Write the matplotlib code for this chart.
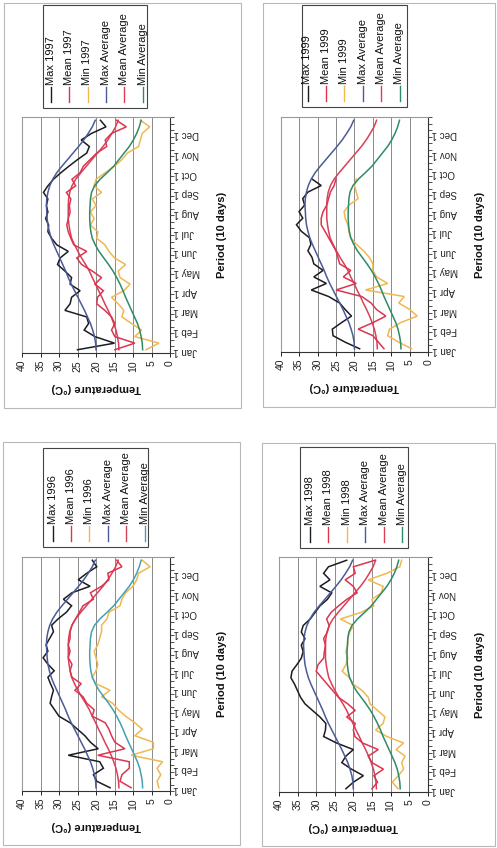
import numpy as np
import matplotlib
matplotlib.use("Agg")
import matplotlib.pyplot as plt
from matplotlib.lines import Line2D
from matplotlib.patches import Rectangle

plt.rcParams['font.family'] = ['Liberation Sans', 'DejaVu Sans']

W, H = 497, 848

# ---- data -------------------------------------------------------------
month_labels = ["Jan 1", "Feb 1", "Mar 1", "Apr 1", "May 1", "Jun 1",
                "Jul 1", "Aug 1", "Sep 1", "Oct 1", "Nov 1", "Dec 1"]
temp_ticks = [0, 5, 10, 15, 20, 25, 30, 35, 40]

# long-term 10-day averages (36 periods)
max_average = [20.0, 20.1, 20.4, 20.9, 21.5, 22.3, 23.1, 24.0, 24.9, 25.8, 26.7, 27.5,
               28.2, 29.0, 29.8, 30.6, 31.4, 32.1, 32.6, 33.0, 33.2, 33.3, 33.4, 33.3,
               33.0, 32.5, 31.7, 30.6, 29.2, 27.7, 26.2, 24.7, 23.3, 22.1, 21.0, 20.2]
mean_average = [13.8, 13.9, 14.2, 14.6, 15.2, 15.9, 16.7, 17.6, 18.4, 19.3, 20.1, 21.0,
                21.8, 22.8, 23.9, 24.9, 25.8, 26.6, 27.0, 27.3, 27.5, 27.5, 27.5, 27.4,
                27.1, 26.5, 25.5, 24.1, 22.6, 21.1, 19.6, 18.1, 16.8, 15.7, 14.7, 14.0]
min_average = [7.4, 7.5, 7.8, 8.2, 8.8, 9.6, 10.4, 11.2, 12.0, 12.7, 13.5, 14.4,
               15.4, 16.6, 17.9, 19.2, 20.2, 21.0, 21.4, 21.6, 21.7, 21.7, 21.6, 21.5,
               21.2, 20.4, 18.9, 17.0, 15.2, 13.8, 12.4, 11.0, 9.9, 9.0, 8.3, 7.8]

max_1996 = [16.2, 19.8, 20.7, 18.0, 19.0, 27.5, 19.4, 21.5, 23.0, 25.0, 27.0, 30.0,
            31.2, 32.4, 32.0, 31.5, 32.3, 33.0, 31.3, 33.0, 34.3, 33.0, 33.5, 32.5,
            31.5, 32.0, 30.2, 28.0, 26.6, 28.8, 26.5, 21.6, 24.8, 22.5, 19.8, 21.0]
mean_1996 = [10.5, 13.5, 13.0, 11.0, 11.0, 19.5, 12.2, 14.9, 15.8, 16.5, 17.5, 21.0,
             20.5, 22.5, 23.5, 25.7, 24.0, 26.5, 27.0, 26.5, 27.5, 27.0, 27.5, 27.0,
             27.0, 26.5, 25.5, 24.5, 23.5, 20.7, 21.5, 18.5, 16.5, 16.8, 13.0, 14.4]
min_1996 = [3.0, 3.5, 2.5, 3.5, 2.0, 10.5, 4.5, 4.5, 9.5, 7.5, 9.5, 12.0,
            14.0, 15.5, 18.5, 16.2, 20.0, 21.0, 20.0, 19.5, 20.0, 20.5, 19.5, 19.0,
            18.5, 18.5, 17.0, 16.5, 13.5, 13.0, 12.0, 10.0, 9.0, 8.5, 5.4, 7.5]

max_1997 = [25.0, 15.0, 20.3, 23.2, 22.0, 22.5, 28.4, 27.0, 26.6, 24.3, 27.0, 26.6,
            28.4, 30.4, 29.7, 27.5, 30.6, 32.0, 33.0, 32.8, 33.6, 33.0, 33.4, 33.0,
            34.2, 33.0, 31.5, 29.5, 27.3, 25.0, 22.5, 21.8, 24.0, 21.2, 17.3, 18.8]
mean_1997 = [14.9, 9.5, 14.9, 15.8, 14.9, 15.8, 17.6, 19.8, 19.6, 18.0, 20.3, 18.5,
             21.0, 23.9, 25.2, 22.5, 26.0, 26.8, 27.5, 27.9, 27.5, 27.0, 27.2, 26.8,
             28.0, 25.5, 26.5, 24.3, 23.4, 21.6, 19.8, 17.1, 17.5, 15.8, 11.8, 14.5]
min_1997 = [6.5, 3.0, 9.5, 7.7, 10.4, 13.0, 12.5, 14.0, 15.8, 12.5, 10.8, 13.5,
            14.0, 12.0, 15.0, 16.5, 17.6, 19.8, 19.5, 21.5, 20.5, 21.5, 20.0, 21.0,
            18.5, 20.5, 20.0, 17.5, 15.0, 13.0, 11.5, 8.5, 8.0, 7.5, 5.5, 8.0]

max_1998 = [22.0, 20.0, 17.3, 20.5, 23.1, 22.0, 20.0, 24.5, 28.0, 27.5, 27.4, 29.0,
            31.0, 33.0, 34.2, 35.0, 35.8, 36.8, 36.5, 35.2, 34.0, 33.5, 34.0, 33.0,
            34.0, 33.5, 31.6, 30.3, 29.0, 27.0, 25.8, 29.0, 26.3, 28.0, 26.7, 21.8]
mean_1998 = [15.0, 13.5, 14.5, 11.9, 15.0, 16.0, 13.3, 17.5, 19.6, 20.0, 19.5, 21.8,
             19.5, 21.5, 24.0, 25.5, 27.0, 28.5, 30.0, 29.5, 28.0, 27.8, 27.5, 28.0,
             27.0, 26.5, 27.2, 26.0, 24.0, 21.8, 19.0, 20.0, 22.2, 19.5, 20.0, 14.2]
min_1998 = [8.0, 9.5, 7.9, 6.5, 7.0, 6.1, 8.5, 6.5, 11.0, 14.0, 12.0, 11.5,
            13.5, 15.5, 16.0, 17.5, 20.0, 21.0, 23.0, 22.0, 21.5, 22.0, 21.5, 21.5,
            21.0, 20.0, 23.5, 18.0, 14.5, 15.0, 12.5, 12.0, 16.0, 11.0, 7.5, 7.0]

# 1999 record stops at the end of September
max_1999 = [18.6, 22.5, 25.8, 26.0, 23.5, 20.8, 22.5, 24.0, 27.0, 31.7, 27.6, 31.0,
            28.5, 31.0, 31.5, 32.6, 31.8, 32.2, 34.4, 35.7, 34.0, 35.0, 33.5, 34.0,
            32.6, 29.0, 31.5]
mean_1999 = [12.0, 13.5, 15.0, 19.0, 15.0, 11.5, 14.0, 15.5, 18.0, 25.0, 19.5, 23.0,
             21.0, 24.0, 24.5, 25.0, 26.0, 27.0, 28.0, 29.0, 29.0, 28.5, 27.5, 27.0,
             26.5, 25.5, 25.0]
min_1999 = [4.5, 8.0, 11.0, 10.5, 7.5, 3.0, 5.0, 8.0, 6.5, 17.0, 11.0, 14.0,
            15.0, 15.0, 16.0, 17.5, 19.5, 21.0, 21.5, 21.8, 22.5, 22.8, 21.5, 19.0,
            19.5, 20.0, 19.5]

# ---- styling ----------------------------------------------------------
C_MAX = "#1c1c24"
C_MEAN = "#dc3550"
C_MIN = "#f0b850"
C_MAXAVG = "#4b5b95"
C_MEANAVG = "#d94058"
C_MINAVG_GREEN = "#2f8a68"
C_MINAVG_TEAL = "#45a0b4"

panels = [
    dict(year="1997", mx=max_1997, mn=mean_1997, lo=min_1997,
         plot=(22, 117, 170, 353), frame=(4, 3, 241, 408),
         legend=(43, 5, 147, 108), lx0=50.7, minavg=C_MINAVG_GREEN),
    dict(year="1999", mx=max_1999, mn=mean_1999, lo=min_1999,
         plot=(280.6, 117, 428.3, 352), frame=(263, 3, 495, 407),
         legend=(302, 5, 407, 107), lx0=307.5, minavg=C_MINAVG_GREEN),
    dict(year="1996", mx=max_1996, mn=mean_1996, lo=min_1996,
         plot=(22, 557, 170, 791), frame=(3, 442, 240, 845),
         legend=(43, 448, 148, 547), lx0=52.5, minavg=C_MINAVG_TEAL),
    dict(year="1998", mx=max_1998, mn=mean_1998, lo=min_1998,
         plot=(279, 557, 427.7, 792), frame=(262, 443, 495, 846),
         legend=(300, 447, 408, 548), lx0=310.0, minavg=C_MINAVG_GREEN),
]


def fx(x):
    return x / W


def fy(y):
    return 1 - y / H


fig = plt.figure(figsize=(W / 100, H / 100), dpi=100)
fig.patch.set_facecolor("white")

for p in panels:
    # outer chart frame
    x0, y0, x1, y1 = p["frame"]
    fig.add_artist(Rectangle((fx(x0), fy(y1)), fx(x1) - fx(x0), fy(y0) - fy(y1),
                             transform=fig.transFigure, fill=False,
                             edgecolor="#b8b8b8", lw=0.8))

    l, t, r, b = p["plot"]
    ax = fig.add_axes([fx(l), fy(b), fx(r) - fx(l), fy(t) - fy(b)])
    ax.set_facecolor("white")
    ax.set_xlim(40, 0)
    ax.set_ylim(-0.5, 35.5)

    for g in temp_ticks[1:-1]:
        ax.axvline(g, color="#8a8a8a", lw=0.7, zorder=1)

    idx = np.arange(36)
    series = [
        (p["mx"], C_MAX),
        (p["lo"], C_MIN),
        (max_average, C_MAXAVG),
        (mean_average, C_MEANAVG),
        (min_average, p["minavg"]),
        (p["mn"], C_MEAN),
    ]
    for vals, col in series:
        ax.plot(vals, idx[:len(vals)], color=col, lw=1.1, zorder=3,
                solid_joinstyle="miter")

    # temperature axis (bottom)
    ax.set_xticks(temp_ticks)
    ax.set_xticklabels([str(v) for v in temp_ticks], rotation=90)
    ax.tick_params(axis="x", direction="out", length=3, width=0.7, pad=2,
                   labelsize=7.5, colors="#222222")

    # period axis (right)
    ax.yaxis.tick_right()
    ax.set_yticks(np.arange(0, 36, 3))
    ax.set_yticklabels(month_labels, rotation=180)
    ax.set_yticks(np.arange(-0.5, 36, 1), minor=True)
    ax.tick_params(axis="y", which="major", length=0, pad=2.5, labelsize=7,
                   colors="#222222")
    ax.tick_params(axis="y", which="minor", direction="out", length=3,
                   width=0.6, color="#333333")

    for side in ("left", "top"):
        ax.spines[side].set_color("#9a9a9a")
        ax.spines[side].set_linewidth(0.8)
    for side in ("right", "bottom"):
        ax.spines[side].set_color("#333333")
        ax.spines[side].set_linewidth(0.8)

    # axis titles
    fig.text(fx((l + r) / 2), fy(b + 35), "Temperature (°C)", rotation=180,
             ha="center", va="center", fontsize=8, fontweight="bold",
             color="#111111")
    fig.text(fx(r + 52), fy((t + b) / 2), "Period (10 days)", rotation=90,
             ha="center", va="center", fontsize=8, fontweight="bold",
             color="#111111")

    # legend box, drawn sideways
    gl, gt, gr, gb = p["legend"]
    fig.add_artist(Rectangle((fx(gl), fy(gb)), fx(gr) - fx(gl), fy(gt) - fy(gb),
                             transform=fig.transFigure, facecolor="white",
                             edgecolor="#444444", lw=0.8))
    entries = [
        ("Max " + p["year"], C_MAX),
        ("Mean " + p["year"], C_MEAN),
        ("Min " + p["year"], C_MIN),
        ("Max Average", C_MAXAVG),
        ("Mean Average", C_MEANAVG),
        ("Min Average", p["minavg"]),
    ]
    for j, (name, col) in enumerate(entries):
        xc = p["lx0"] + j * 18.4
        fig.add_artist(Line2D([fx(xc), fx(xc)], [fy(gb - 6), fy(gb - 21)],
                              transform=fig.transFigure, color=col, lw=1.0))
        fig.text(fx(xc), fy(gb - 23), name, rotation=90, rotation_mode="anchor",
                 ha="left", va="center", fontsize=8, color="#111111")

fig.savefig("out.png", dpi=100, facecolor="white")
